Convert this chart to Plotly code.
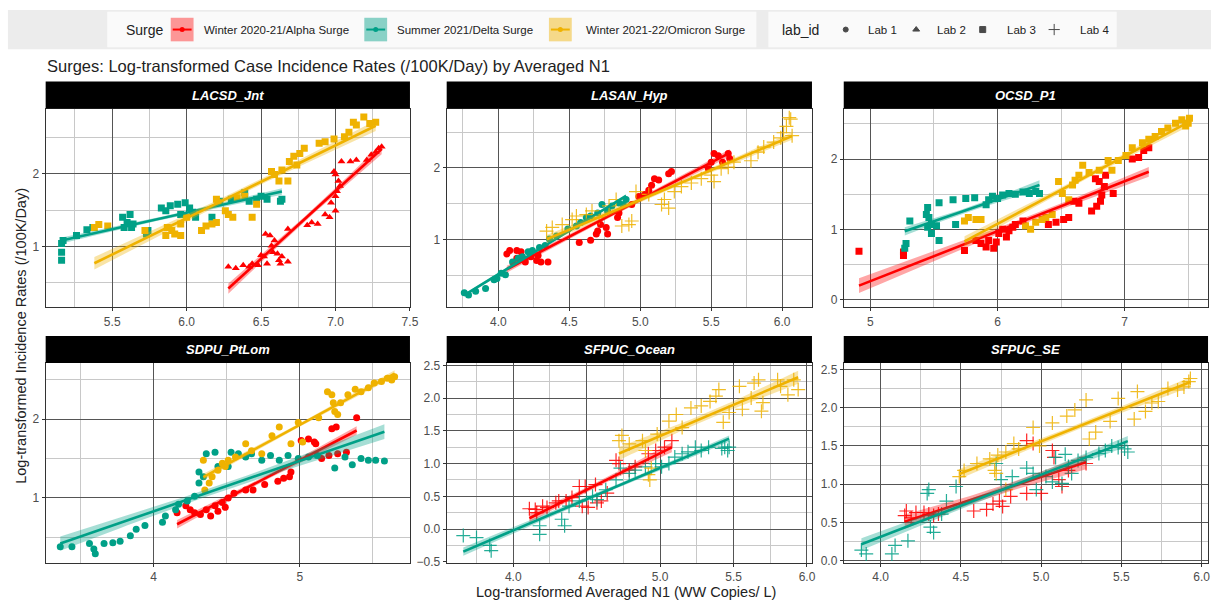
import numpy as np
import plotly.graph_objects as go

# ---------------- DATA ----------------
panels = ["LACSD_Jnt", "LASAN_Hyp", "OCSD_P1", "SDPU_PtLom", "SFPUC_Ocean", "SFPUC_SE"]
surges = ["Winter 2020-21/Alpha Surge", "Summer 2021/Delta Surge", "Winter 2021-22/Omicron Surge"]
lab_ids = ["Lab 1", "Lab 2", "Lab 3", "Lab 4"]

# LACSD_Jnt
lacsd_alpha_x = [6.28, 6.33, 6.38, 6.42, 6.44, 6.48, 6.50, 6.52, 6.54, 6.53, 6.56, 6.57, 6.58, 6.59, 6.61, 6.62, 6.63, 6.64, 6.68, 6.68, 6.81, 6.84, 6.88, 6.93, 6.96, 7.00, 6.99, 7.00, 7.00, 7.01, 7.02, 7.03, 7.04, 7.10, 7.14, 7.21, 7.24, 7.27, 7.29, 7.31, 6.97]
lacsd_alpha_y = [0.72, 0.70, 0.74, 0.72, 0.76, 0.74, 0.88, 0.86, 0.76, 1.17, 1.15, 1.01, 0.92, 1.08, 0.90, 0.81, 0.76, 0.86, 0.79, 1.24, 1.29, 1.33, 1.31, 1.44, 1.40, 1.49, 2.03, 1.99, 1.69, 1.76, 1.90, 1.83, 2.17, 2.17, 2.19, 2.19, 2.26, 2.30, 2.35, 2.37, 1.60]
lacsd_delta_x = [5.16, 5.16, 5.16, 5.17, 5.26, 5.33, 5.37, 5.57, 5.58, 5.60, 5.62, 5.63, 5.64, 5.74, 5.73, 5.83, 5.86, 5.89, 5.94, 5.96, 5.99, 6.02, 6.04, 6.06, 6.17, 6.22, 6.30, 6.39, 6.42, 6.47, 6.50, 6.54, 6.63, 6.64]
lacsd_delta_y = [0.81, 0.92, 1.04, 1.08, 1.15, 1.23, 1.26, 1.40, 1.26, 1.33, 1.44, 1.26, 1.31, 1.22, 1.17, 1.53, 1.49, 1.56, 1.58, 1.44, 1.60, 1.53, 1.47, 1.40, 1.40, 1.62, 1.65, 1.74, 1.62, 1.65, 1.69, 1.65, 1.62, 1.65]
lacsd_omicron_x = [5.38, 5.41, 5.47, 5.72, 5.87, 5.86, 5.90, 5.92, 5.96, 5.96, 6.00, 6.10, 6.13, 6.17, 6.20, 6.20, 6.21, 6.26, 6.28, 6.31, 6.34, 6.39, 6.44, 6.47, 6.57, 6.59, 6.62, 6.64, 6.68, 6.69, 6.72, 6.74, 6.76, 6.79, 6.89, 6.93, 6.99, 7.06, 7.09, 7.12, 7.14, 7.19, 7.23, 7.27]
lacsd_omicron_y = [1.26, 1.30, 1.28, 1.22, 1.26, 1.15, 1.22, 1.17, 1.15, 1.31, 1.40, 1.22, 1.28, 1.31, 1.33, 1.65, 1.60, 1.49, 1.44, 1.40, 1.67, 1.69, 1.40, 1.58, 2.03, 1.99, 1.90, 2.05, 1.90, 2.17, 2.24, 2.12, 2.28, 2.35, 2.42, 2.44, 2.48, 2.51, 2.57, 2.71, 2.67, 2.78, 2.69, 2.71]

# LASAN_Hyp
lasan_alpha_x = [4.06, 4.08, 4.13, 4.16, 4.13, 4.19, 4.23, 4.27, 4.30, 4.35, 4.28, 4.57, 4.65, 4.69, 4.70, 4.72, 4.76, 4.77, 4.84, 4.85, 4.94, 4.99, 5.03, 5.06, 5.08, 5.10, 5.13, 5.20, 5.22, 5.48, 5.50, 5.52, 5.55, 5.58, 5.62, 5.63]
lasan_alpha_y = [0.80, 0.85, 0.85, 0.83, 0.74, 0.69, 0.76, 0.71, 0.69, 0.69, 0.78, 0.96, 0.99, 1.08, 1.12, 1.21, 1.17, 1.08, 1.31, 1.37, 1.49, 1.60, 1.63, 1.69, 1.76, 1.85, 1.83, 1.92, 1.95, 1.99, 2.08, 2.20, 2.17, 2.08, 2.20, 2.13]
lasan_delta_x = [3.76, 3.79, 3.84, 3.91, 3.97, 3.99, 4.02, 4.05, 4.10, 4.14, 4.17, 4.21, 4.24, 4.29, 4.33, 4.36, 4.41, 4.49, 4.55, 4.58, 4.62, 4.65, 4.70, 4.73, 4.77, 4.80, 4.85, 4.88, 4.90]
lasan_delta_y = [0.26, 0.23, 0.28, 0.32, 0.44, 0.46, 0.53, 0.51, 0.69, 0.74, 0.76, 0.83, 0.85, 0.89, 0.92, 1.01, 1.05, 1.15, 1.19, 1.24, 1.31, 1.33, 1.37, 1.49, 1.40, 1.47, 1.51, 1.49, 1.56]
lasan_omicron_x = [4.34, 4.38, 4.45, 4.52, 4.55, 4.62, 4.66, 4.71, 4.78, 4.83, 4.87, 4.92, 4.94, 4.97, 5.06, 5.15, 5.20, 5.17, 5.24, 5.29, 5.36, 5.43, 5.50, 5.52, 5.57, 5.62, 5.66, 5.78, 5.83, 5.87, 5.94, 5.99, 6.01, 6.03, 6.06, 6.07, 6.05]
lasan_omicron_y = [1.12, 1.17, 1.21, 1.28, 1.33, 1.35, 1.40, 1.31, 1.47, 1.56, 1.19, 1.21, 1.26, 1.67, 1.63, 1.49, 1.44, 1.56, 1.67, 1.74, 1.79, 1.85, 1.90, 1.81, 1.99, 2.01, 2.08, 2.10, 2.22, 2.29, 2.36, 2.42, 2.49, 2.58, 2.68, 2.45, 2.70]

# OCSD_P1
ocsd_alpha_x = [4.91, 5.26, 5.26, 5.74, 5.83, 5.87, 5.91, 5.93, 5.97, 5.99, 6.01, 6.04, 6.07, 6.09, 6.12, 6.14, 6.20, 6.40, 6.46, 6.52, 6.56, 6.60, 6.64, 6.74, 6.78, 6.81, 6.82, 6.84, 6.80, 6.77, 6.85, 6.91, 7.06, 7.11, 7.19, 7.15]
ocsd_alpha_y = [0.69, 0.68, 0.63, 0.70, 0.84, 0.80, 0.75, 0.84, 0.73, 0.82, 0.94, 1.00, 0.89, 0.98, 1.03, 1.07, 1.12, 1.07, 1.10, 1.14, 1.17, 1.40, 1.37, 1.26, 1.33, 1.40, 1.49, 1.61, 1.68, 1.72, 1.77, 1.51, 2.00, 2.02, 2.16, 2.12]
ocsd_delta_x = [5.27, 5.28, 5.31, 5.45, 5.44, 5.46, 5.48, 5.45, 5.48, 5.54, 5.52, 5.54, 5.65, 5.75, 5.82, 5.67, 5.91, 5.93, 5.96, 6.00, 6.04, 6.09, 6.14, 6.20, 6.25, 6.30, 6.33]
ocsd_delta_y = [0.73, 0.80, 1.12, 1.31, 1.21, 1.17, 1.07, 1.03, 0.94, 0.84, 1.05, 1.38, 1.42, 1.44, 1.45, 1.07, 1.35, 1.42, 1.47, 1.44, 1.49, 1.51, 1.50, 1.53, 1.51, 1.54, 1.51]
ocsd_omicron_x = [5.74, 5.77, 5.83, 5.87, 6.22, 6.26, 6.30, 6.35, 6.38, 6.43, 6.48, 6.51, 6.56, 6.59, 6.61, 6.64, 6.67, 6.72, 6.80, 6.87, 6.90, 6.95, 7.01, 7.06, 7.14, 7.19, 7.24, 7.29, 7.34, 7.40, 7.45, 7.50, 7.51, 7.48]
ocsd_omicron_y = [1.12, 1.17, 1.14, 1.14, 1.05, 1.00, 1.10, 1.14, 1.17, 1.21, 1.68, 1.51, 1.42, 1.63, 1.70, 1.77, 1.91, 1.81, 1.84, 1.98, 1.84, 1.98, 2.05, 2.16, 2.23, 2.28, 2.32, 2.39, 2.44, 2.51, 2.56, 2.51, 2.58, 2.47]

# SDPU_PtLom
sdpu_alpha_x = [4.16, 4.22, 4.25, 4.28, 4.32, 4.36, 4.39, 4.42, 4.44, 4.47, 4.49, 4.51, 4.55, 4.63, 4.68, 4.76, 4.85, 4.89, 4.93, 4.94, 5.01, 5.06, 5.10, 5.11, 5.15, 5.20, 5.22, 5.25, 5.26, 5.32, 5.39]
sdpu_alpha_y = [0.81, 0.90, 0.85, 0.81, 0.79, 0.85, 0.77, 0.90, 0.83, 0.94, 0.88, 1.00, 1.06, 1.10, 1.10, 1.17, 1.21, 1.25, 1.27, 1.33, 1.73, 1.75, 1.71, 1.69, 1.50, 1.54, 1.88, 1.90, 1.56, 1.58, 2.02]
sdpu_delta_x = [3.36, 3.44, 3.56, 3.59, 3.60, 3.66, 3.72, 3.77, 3.84, 3.88, 3.94, 4.06, 4.08, 4.15, 4.17, 4.23, 4.28, 4.31, 4.31, 4.34, 4.36, 4.42, 4.44, 4.51, 4.53, 4.58, 4.63, 4.67, 4.74, 4.80, 4.86, 4.92, 4.99, 5.06, 5.12, 5.24, 5.31, 5.36, 5.42, 5.47, 5.52, 5.58]
sdpu_delta_y = [0.38, 0.38, 0.42, 0.35, 0.29, 0.42, 0.43, 0.45, 0.52, 0.60, 0.65, 0.69, 0.77, 0.85, 0.92, 0.96, 1.02, 1.19, 1.33, 1.27, 1.56, 1.58, 1.40, 1.40, 1.58, 1.56, 1.52, 1.56, 1.48, 1.54, 1.48, 1.54, 1.50, 1.52, 1.54, 1.38, 1.52, 1.42, 1.50, 1.48, 1.48, 1.47]
sdpu_omicron_x = [4.34, 4.35, 4.38, 4.40, 4.44, 4.47, 4.49, 4.51, 4.56, 4.63, 4.67, 4.74, 4.81, 4.86, 4.94, 4.99, 5.02, 5.13, 5.19, 5.22, 5.23, 5.24, 5.26, 5.28, 5.33, 5.38, 5.42, 5.47, 5.51, 5.56, 5.60, 5.65, 5.63]
sdpu_omicron_y = [1.48, 1.10, 1.19, 1.27, 1.35, 1.44, 1.40, 1.48, 1.52, 1.69, 1.60, 1.56, 1.79, 1.90, 1.69, 1.96, 1.71, 2.02, 2.35, 2.31, 2.21, 2.10, 2.06, 2.21, 2.31, 2.38, 2.35, 2.40, 2.46, 2.48, 2.52, 2.54, 2.50]

# SFPUC_Ocean
ocean_alpha_x = [4.11, 4.15, 4.16, 4.20, 4.23, 4.29, 4.31, 4.36, 4.40, 4.45, 4.47, 4.49, 4.51, 4.56, 4.57, 4.60, 4.64, 4.70, 4.72, 4.79, 4.83, 4.92, 4.97, 5.03, 5.08]
ocean_alpha_y = [0.31, 0.30, 0.25, 0.35, 0.33, 0.40, 0.43, 0.43, 0.48, 0.65, 0.35, 0.65, 0.33, 0.68, 0.40, 0.43, 0.55, 1.05, 1.00, 0.90, 0.95, 1.15, 1.20, 1.25, 1.35]
ocean_delta_x = [3.66, 3.75, 3.85, 3.84, 4.18, 4.18, 4.33, 4.35, 4.38, 4.45, 4.54, 4.57, 4.63, 4.70, 4.73, 4.79, 4.83, 4.90, 4.97, 5.01, 5.06, 5.10, 5.15, 5.19, 5.24, 5.28, 5.33, 5.42, 5.44, 5.46, 5.47]
ocean_delta_y = [-0.10, -0.13, -0.33, -0.25, 0.05, -0.08, 0.15, 0.05, 0.35, 0.43, 0.50, 0.45, 0.60, 0.75, 0.93, 0.85, 0.90, 0.95, 1.00, 0.95, 1.00, 1.10, 1.15, 1.18, 1.25, 1.20, 1.25, 1.23, 1.25, 1.20, 1.25]
ocean_omicron_x = [4.72, 4.74, 4.79, 4.88, 4.90, 4.92, 4.93, 4.94, 4.98, 5.06, 5.11, 5.15, 5.21, 5.28, 5.34, 5.38, 5.40, 5.43, 5.47, 5.54, 5.56, 5.62, 5.64, 5.67, 5.69, 5.70, 5.80, 5.82, 5.87, 5.91, 5.94]
ocean_omicron_y = [1.35, 1.43, 1.30, 1.35, 1.20, 0.83, 0.75, 0.93, 1.45, 1.65, 1.75, 1.55, 1.85, 1.88, 1.95, 2.03, 2.13, 1.63, 1.78, 2.18, 1.83, 2.00, 2.23, 2.28, 1.80, 1.93, 2.28, 2.18, 2.05, 2.28, 2.13]

# SFPUC_SE
se_alpha_x = [4.15, 4.16, 4.19, 4.22, 4.27, 4.30, 4.33, 4.36, 4.58, 4.66, 4.70, 4.76, 4.74, 4.81, 4.91, 4.91, 4.95, 5.00, 5.07, 5.08, 5.11, 5.13, 5.17, 5.28]
se_alpha_y = [0.59, 0.65, 0.56, 0.63, 0.63, 0.61, 0.59, 0.61, 0.65, 0.67, 0.74, 0.71, 0.78, 0.84, 1.57, 0.88, 1.53, 0.88, 1.44, 1.35, 1.06, 0.97, 1.18, 1.27]
se_delta_x = [3.88, 3.91, 4.07, 4.09, 4.17, 4.29, 4.30, 4.31, 4.33, 4.38, 4.41, 4.47, 4.72, 4.75, 4.82, 4.91, 4.95, 4.97, 5.03, 5.07, 5.09, 5.13, 5.15, 5.17, 5.19, 5.23, 5.28, 5.36, 5.40, 5.44, 5.48, 5.52, 5.54]
se_delta_y = [0.14, 0.09, 0.09, 0.20, 0.26, 0.88, 0.93, 0.44, 0.37, 0.61, 0.78, 0.97, 1.27, 1.06, 1.10, 1.21, 1.14, 0.93, 1.10, 1.03, 1.35, 1.01, 1.39, 1.23, 1.14, 1.31, 1.35, 1.40, 1.44, 1.50, 1.48, 1.46, 1.42]
se_omicron_x = [4.49, 4.52, 4.60, 4.68, 4.73, 4.78, 4.83, 4.86, 4.71, 4.72, 4.78, 4.95, 4.99, 5.07, 5.16, 5.21, 5.28, 5.30, 5.34, 5.43, 5.48, 5.60, 5.58, 5.65, 5.69, 5.73, 5.79, 5.85, 5.89, 5.92, 5.93]
se_omicron_y = [1.10, 1.18, 1.27, 1.33, 1.38, 1.42, 1.53, 1.46, 1.18, 1.14, 0.93, 1.74, 1.50, 1.80, 1.89, 1.97, 2.10, 1.59, 1.68, 1.82, 2.12, 2.21, 1.85, 1.95, 2.06, 2.08, 2.25, 2.23, 2.27, 2.34, 2.38]

# lab of each (panel, surge) series
panel_labs = {
    "LACSD_Jnt": ["Lab 2", "Lab 3", "Lab 3"],
    "LASAN_Hyp": ["Lab 1", "Lab 1", "Lab 4"],
    "OCSD_P1": ["Lab 3", "Lab 3", "Lab 3"],
    "SDPU_PtLom": ["Lab 1", "Lab 1", "Lab 1"],
    "SFPUC_Ocean": ["Lab 4", "Lab 4", "Lab 4"],
    "SFPUC_SE": ["Lab 4", "Lab 4", "Lab 4"],
}
series_data = {
    "LACSD_Jnt": [(lacsd_alpha_x, lacsd_alpha_y), (lacsd_delta_x, lacsd_delta_y), (lacsd_omicron_x, lacsd_omicron_y)],
    "LASAN_Hyp": [(lasan_alpha_x, lasan_alpha_y), (lasan_delta_x, lasan_delta_y), (lasan_omicron_x, lasan_omicron_y)],
    "OCSD_P1": [(ocsd_alpha_x, ocsd_alpha_y), (ocsd_delta_x, ocsd_delta_y), (ocsd_omicron_x, ocsd_omicron_y)],
    "SDPU_PtLom": [(sdpu_alpha_x, sdpu_alpha_y), (sdpu_delta_x, sdpu_delta_y), (sdpu_omicron_x, sdpu_omicron_y)],
    "SFPUC_Ocean": [(ocean_alpha_x, ocean_alpha_y), (ocean_delta_x, ocean_delta_y), (ocean_omicron_x, ocean_omicron_y)],
    "SFPUC_SE": [(se_alpha_x, se_alpha_y), (se_delta_x, se_delta_y), (se_omicron_x, se_omicron_y)],
}

# ---------------- STYLE ----------------
W, H = 1222, 610
FONT = "Liberation Sans, Arial, sans-serif"
surge_colors = ["#FF0000", "#00A087", "#EFB200"]
surge_fill = ["rgba(255,0,0,0.35)", "rgba(0,160,135,0.35)", "rgba(239,178,0,0.35)"]
key_fill = ["rgba(255,0,0,0.4)", "rgba(0,160,135,0.45)", "rgba(239,178,0,0.45)"]
lab_symbol = {"Lab 1": "circle", "Lab 2": "triangle-up", "Lab 3": "square", "Lab 4": "cross-thin"}
BAND_Z = 1.2   # half-width of the drawn confidence ribbon, in standard errors

def px(x):
    return x / W

def py(y):
    return 1 - y / H

col_dom = [(46, 413), (450, 818), (850, 1217)]
row_dom = [(106, 308), (365, 568)]
axis_cfg = {
    "LACSD_Jnt": dict(xr=[5.053, 7.5], yr=[0.16, 2.89], xd=0.5, xm=0.25, xf=".1f", yd=1, ym=0.5, yf="d"),
    "LASAN_Hyp": dict(xr=[3.636, 6.21], yr=[0.055, 2.82], xd=0.5, xm=0.25, xf=".1f", yd=1, ym=0.5, yf="d"),
    "OCSD_P1": dict(xr=[4.79, 7.656], yr=[-0.11, 2.71], xd=1, xm=0.5, xf="d", yd=1, ym=0.5, yf="d"),
    "SDPU_PtLom": dict(xr=[3.26, 5.755], yr=[0.175, 2.71], xd=1, xm=0.5, xf="d", yd=1, ym=0.5, yf="d"),
    "SFPUC_Ocean": dict(xr=[3.547, 6.034], yr=[-0.515, 2.53], xd=0.5, xm=0.25, xf=".1f", yd=0.5, ym=0.25, yf=".1f"),
    "SFPUC_SE": dict(xr=[3.77, 6.04], yr=[-0.026, 2.577], xd=0.5, xm=0.25, xf=".1f", yd=0.5, ym=0.25, yf=".1f"),
}

fig = go.Figure()
layout = {}
shapes = []
annotations = []

for i, name in enumerate(panels):
    r, c = divmod(i, 3)
    k = i + 1
    xa = "x" if k == 1 else f"x{k}"
    ya = "y" if k == 1 else f"y{k}"
    cfg = axis_cfg[name]
    x0, x1 = col_dom[c]
    y0, y1 = row_dom[r]
    common = dict(showline=True, mirror=True, linecolor="#333333", linewidth=1,
                  ticks="outside", ticklen=3, tickcolor="#333333", tickwidth=1,
                  gridcolor="#555555", gridwidth=0.9, zeroline=False,
                  tickfont=dict(family=FONT, size=12, color="#4d4d4d"), tick0=0)
    layout["xaxis" if k == 1 else f"xaxis{k}"] = dict(
        common, domain=[px(x0), px(x1)], range=cfg["xr"], dtick=cfg["xd"], tickformat=cfg["xf"],
        anchor=ya, minor=dict(dtick=cfg["xm"], showgrid=True, gridcolor="#c8c8c8", gridwidth=0.8))
    layout["yaxis" if k == 1 else f"yaxis{k}"] = dict(
        common, domain=[py(y1), py(y0)], range=cfg["yr"], dtick=cfg["yd"], tickformat=cfg["yf"],
        anchor=xa, minor=dict(dtick=cfg["ym"], showgrid=True, gridcolor="#c8c8c8", gridwidth=0.8))

    # strip
    shapes.append(dict(type="rect", xref="paper", yref="paper", x0=px(x0), x1=px(x1),
                       y0=py(y0 - 0.5), y1=py(y0 - 28), fillcolor="black", line=dict(width=0), layer="above"))
    annotations.append(dict(xref="paper", yref="paper", x=px((x0 + x1) / 2), y=py(y0 - 14),
                            text=f"<b><i>{name}</i></b>", showarrow=False,
                            font=dict(family=FONT, size=13, color="white"), xanchor="center", yanchor="middle"))

    for s in range(3):
        xs, ys = series_data[name][s]
        lab = panel_labs[name][s]
        sym = lab_symbol[lab]
        if sym == "cross-thin":
            marker = dict(symbol=sym, size=10, line=dict(color=surge_colors[s], width=1.2), color=surge_colors[s], opacity=0.85)
        else:
            marker = dict(symbol=sym, size=7, color=surge_colors[s], line=dict(width=0))
        fig.add_trace(go.Scatter(x=xs, y=ys, mode="markers", marker=marker, xaxis=xa, yaxis=ya,
                                 showlegend=False, hoverinfo="skip"))

    for s in range(3):
        xs, ys = series_data[name][s]
        xarr = np.asarray(xs, dtype=float)
        yarr = np.asarray(ys, dtype=float)
        b1, b0 = np.polyfit(xarr, yarr, 1)
        n = len(xarr)
        resid = yarr - (b0 + b1 * xarr)
        sig = np.sqrt(np.sum(resid ** 2) / (n - 2))
        xbar = xarr.mean()
        sxx = np.sum((xarr - xbar) ** 2)
        xg = np.linspace(xarr.min(), xarr.max(), 60)
        yg = b0 + b1 * xg
        se = sig * np.sqrt(1.0 / n + (xg - xbar) ** 2 / sxx)
        up, lo = yg + BAND_Z * se, yg - BAND_Z * se
        fig.add_trace(go.Scatter(x=np.concatenate([xg, xg[::-1]]), y=np.concatenate([up, lo[::-1]]),
                                 fill="toself", fillcolor=surge_fill[s], line=dict(width=0), mode="lines",
                                 xaxis=xa, yaxis=ya, showlegend=False, hoverinfo="skip"))
        fig.add_trace(go.Scatter(x=xg, y=yg, mode="lines", line=dict(color=surge_colors[s], width=2.6),
                                 xaxis=xa, yaxis=ya, showlegend=False, hoverinfo="skip"))

# ---------------- LEGEND (custom, pixel overlay axis) ----------------
layout["xaxis7"] = dict(domain=[0, 1], range=[0, W], visible=False, fixedrange=True, anchor="y7")
layout["yaxis7"] = dict(domain=[0, 1], range=[H, 0], visible=False, fixedrange=True, anchor="x7")

shapes.append(dict(type="rect", xref="x7", yref="y7", x0=8, x1=1220, y0=5, y1=45,
                   fillcolor="#ececec", line=dict(width=0), layer="below"))
shapes.append(dict(type="rect", xref="x7", yref="y7", x0=108, x1=762, y0=7, y1=43,
                   fillcolor="#fafafa", line=dict(width=0), layer="below"))
shapes.append(dict(type="rect", xref="x7", yref="y7", x0=774, x1=1125, y0=7, y1=43,
                   fillcolor="#fafafa", line=dict(width=0), layer="below"))

legend_y = 25
annotations.append(dict(xref="x7", yref="y7", x=125, y=legend_y, text="Surge", showarrow=False,
                        xanchor="left", yanchor="middle", font=dict(family=FONT, size=14, color="#222")))
surge_key_x = [172, 367, 553]
surge_text_x = [203, 398, 588]
for s in range(3):
    kx = surge_key_x[s]
    shapes.append(dict(type="rect", xref="x7", yref="y7", x0=kx, x1=kx + 23, y0=legend_y - 12, y1=legend_y + 12,
                       fillcolor=key_fill[s], line=dict(width=0)))
    shapes.append(dict(type="line", xref="x7", yref="y7", x0=kx + 2, x1=kx + 21, y0=legend_y, y1=legend_y,
                       line=dict(color=surge_colors[s], width=2)))
    annotations.append(dict(xref="x7", yref="y7", x=surge_text_x[s], y=legend_y, text=surges[s], showarrow=False,
                            xanchor="left", yanchor="middle", font=dict(family=FONT, size=11.5, color="#222")))
fig.add_trace(go.Scatter(x=[k + 11.5 for k in surge_key_x], y=[legend_y] * 3, mode="markers",
                         marker=dict(color=surge_colors, size=5), xaxis="x7", yaxis="y7",
                         showlegend=False, hoverinfo="skip"))

annotations.append(dict(xref="x7", yref="y7", x=786, y=legend_y, text="lab_id", showarrow=False,
                        xanchor="left", yanchor="middle", font=dict(family=FONT, size=14, color="#222")))
lab_key_x = [852, 923, 990, 1062]
lab_text_x = [872, 942, 1012, 1086]
fig.add_trace(go.Scatter(x=lab_key_x, y=[legend_y] * 4, mode="markers",
                         marker=dict(symbol=[lab_symbol[l] for l in lab_ids], size=[5, 6, 6, 8], color="black",
                                     line=dict(color="black", width=1)),
                         xaxis="x7", yaxis="y7", showlegend=False, hoverinfo="skip"))
for j, lab in enumerate(lab_ids):
    annotations.append(dict(xref="x7", yref="y7", x=lab_text_x[j], y=legend_y, text=lab, showarrow=False,
                            xanchor="left", yanchor="middle", font=dict(family=FONT, size=11.5, color="#222")))

# titles
annotations.append(dict(xref="paper", yref="paper", x=px(45), y=py(62),
                        text="Surges: Log-transformed Case Incidence Rates (/100K/Day) by Averaged N1",
                        showarrow=False, xanchor="left", yanchor="middle",
                        font=dict(family=FONT, size=16.5, color="#222")))
annotations.append(dict(xref="paper", yref="paper", x=px(631), y=py(598),
                        text="Log-transformed Averaged N1 (WW Copies/ L)", showarrow=False,
                        xanchor="center", yanchor="middle", font=dict(family=FONT, size=14.5, color="#222")))
annotations.append(dict(xref="paper", yref="paper", x=px(21), y=py(337),
                        text="Log-transformed Incidence Rates (/100K/Day)", showarrow=False, textangle=-90,
                        xanchor="center", yanchor="middle", font=dict(family=FONT, size=14.5, color="#222")))

fig.update_layout(**layout)
fig.update_layout(width=W, height=H, margin=dict(l=0, r=0, t=0, b=0),
                  paper_bgcolor="white", plot_bgcolor="rgba(0,0,0,0)",
                  shapes=shapes, annotations=annotations, showlegend=False)

fig.write_html("out.html", config={"displayModeBar": False},
               post_script="document.body.style.margin='0';document.body.style.padding='0';"
                           "document.body.style.overflow='hidden';")
